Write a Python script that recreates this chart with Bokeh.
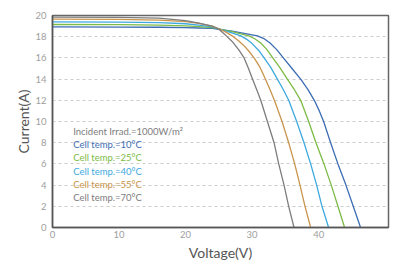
from bokeh.plotting import figure
from bokeh.models import Range1d, Label, FixedTicker
from bokeh.embed import file_html
from bokeh.resources import INLINE

# ---- data ----
v_10 = [0, 10, 16, 20, 22, 24, 25, 27, 29, 30.8, 31.7, 32.7, 33.7, 34.7, 36.0, 37.3, 38.4, 39.35, 40.1, 40.75, 41.8, 42.9, 44.1, 45.2, 46.3]
i_10 = [18.92, 18.91, 18.89, 18.86, 18.82, 18.78, 18.7, 18.52, 18.3, 18.08, 17.85, 17.4, 16.78, 16.0, 15.0, 14.0, 13.0, 12.0, 11.0, 10.0, 8.0, 6.0, 4.0, 2.0, 0]

v_25 = [0, 10, 16, 20, 22, 24, 25, 27, 29.5, 30.4, 31.3, 32.2, 33.0, 34.2, 35.3, 36.4, 37.3, 38.5, 39.6, 40.8, 41.9, 42.9, 43.9]
i_25 = [19.15, 19.14, 19.1, 19.03, 18.95, 18.85, 18.74, 18.48, 18.08, 17.81, 17.4, 16.8, 16.1, 15.05, 14.0, 12.95, 12.0, 10.0, 8.0, 6.0, 4.0, 2.0, 0]

v_40 = [0, 10, 16, 20, 22, 24, 25, 26.5, 28.3, 29.2, 30.0, 31.0, 31.8, 32.8, 33.8, 34.7, 35.5, 36.7, 37.8, 38.8, 39.7, 40.5, 41.5]
i_40 = [19.4, 19.38, 19.33, 19.22, 19.1, 18.92, 18.75, 18.45, 18.08, 17.75, 17.35, 16.7, 16.0, 15.1, 14.0, 13.0, 12.0, 10.0, 8.0, 6.0, 4.0, 2.0, 0]

v_55 = [0, 10, 16, 20, 22, 24, 25, 26, 27.0, 28.0, 28.7, 29.5, 30.3, 31.2, 32.0, 32.7, 33.35, 34.5, 35.5, 36.4, 37.2, 37.95, 38.8]
i_55 = [19.65, 19.63, 19.56, 19.42, 19.25, 19.0, 18.75, 18.45, 18.08, 17.6, 17.2, 16.65, 16.0, 15.1, 14.0, 13.0, 12.0, 10.0, 8.0, 6.0, 4.0, 2.0, 0]

v_70 = [0, 10, 16, 20, 22, 24, 25, 26, 27, 28, 28.8, 29.4, 30.0, 30.7, 31.3, 32.3, 33.3, 34.0, 34.8, 35.5, 36.3]
i_70 = [19.85, 19.83, 19.75, 19.52, 19.28, 19.0, 18.7, 18.15, 17.55, 16.75, 16.0, 15.1, 14.1, 13.0, 12.0, 10.0, 8.0, 6.0, 4.0, 2.0, 0]

series_labels = ["Cell temp.=10°C", "Cell temp.=25°C", "Cell temp.=40°C",
                 "Cell temp.=55°C", "Cell temp.=70°C"]
note_label = "Incident Irrad.=1000W/m²"
x_ticks = [0, 10, 20, 30, 40]
y_ticks = [0, 2, 4, 6, 8, 10, 12, 14, 16, 18, 20]
x_title = "Voltage(V)"
y_title = "Current(A)"

colors = ["#3c6db3", "#7cbb45", "#3ea9de", "#c9944c", "#7d7d7d"]
note_color = "#7d7d7d"
FONT = "Lato"

p = figure(width=392, height=264, output_backend="svg", toolbar_location=None,
           x_range=Range1d(0, 50.5), y_range=Range1d(0, 20),
           min_border_left=52, min_border_right=4, min_border_top=15, min_border_bottom=37)
p.background_fill_color = "white"
p.border_fill_color = "white"
p.outline_line_color = "#666666"
p.outline_line_width = 1.5

for vx, iy, c in zip([v_10, v_25, v_40, v_55, v_70], [i_10, i_25, i_40, i_55, i_70], colors):
    p.line(vx, iy, line_color=c, line_width=1.3, line_join="round")

p.xgrid.visible = False
p.ygrid.ticker = FixedTicker(ticks=y_ticks[1:-1])
p.ygrid.grid_line_color = "#cccccc"
p.ygrid.grid_line_dash = "3 3"
p.ygrid.grid_line_width = 1

p.xaxis.ticker = FixedTicker(ticks=x_ticks)
p.yaxis.ticker = FixedTicker(ticks=y_ticks)
for ax in (p.xaxis[0], p.yaxis[0]):
    ax.axis_line_color = "#555555"
    ax.axis_line_width = 1.5
    ax.major_tick_line_color = None
    ax.minor_tick_line_color = None
    ax.major_tick_out = 0
    ax.major_tick_in = 0
    ax.major_label_text_font = FONT
    ax.major_label_text_font_size = "9.5px"
    ax.major_label_text_color = "#9e9e9e"
    ax.axis_label_text_font = FONT
    ax.axis_label_text_font_size = "14px"
    ax.axis_label_text_font_style = "normal"
    ax.axis_label_text_color = "#555555"

p.xaxis.axis_label = x_title
p.yaxis.axis_label = y_title
p.xaxis.major_label_standoff = 3
p.yaxis.major_label_standoff = 6
p.xaxis.axis_label_standoff = 3
p.yaxis.axis_label_standoff = 0

# text block inside the plot
lx = 3.1
ly0 = 9.06
dy = 1.245
p.add_layout(Label(x=lx, y=ly0, text=note_label, text_color=note_color,
                   text_font=FONT, text_font_size="9.5px", text_baseline="middle"))
for k, (t, c) in enumerate(zip(series_labels, colors)):
    p.add_layout(Label(x=lx, y=ly0 - dy * (k + 1), text=t, text_color=c,
                       text_font=FONT, text_font_size="9.5px", text_baseline="middle"))

open("out.html", "w").write(file_html(p, INLINE))
